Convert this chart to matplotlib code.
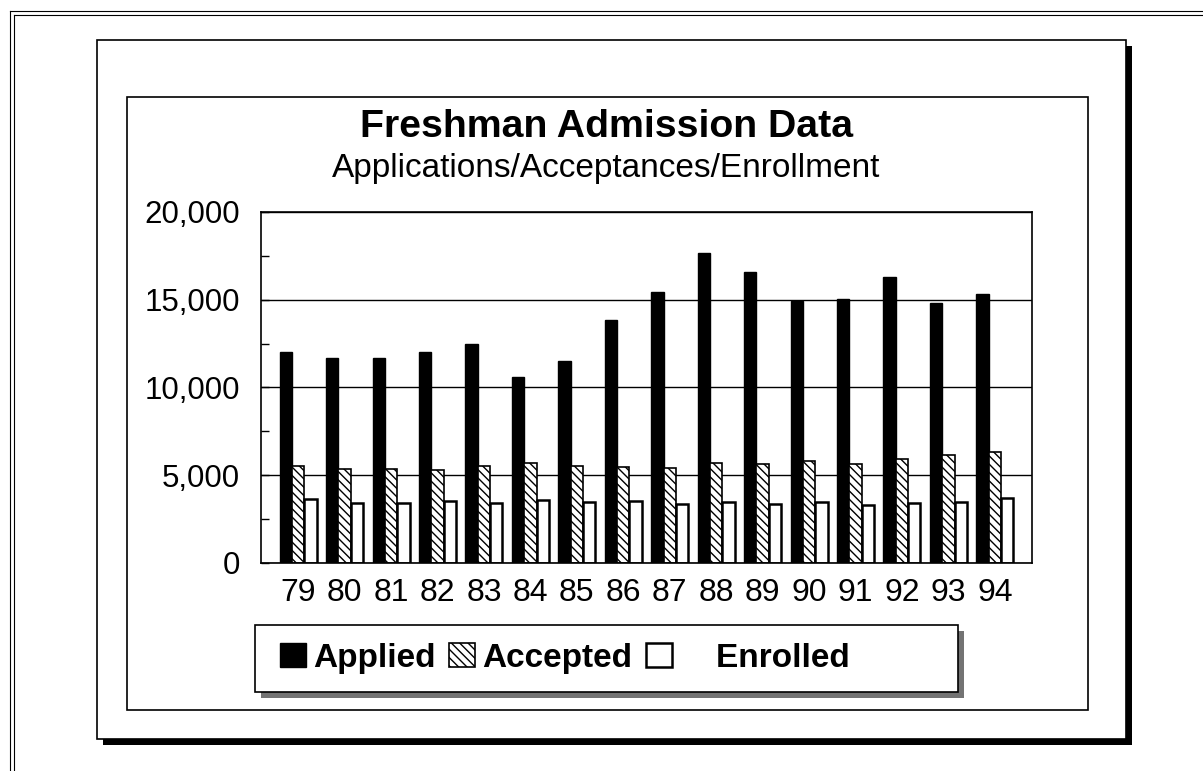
import matplotlib
matplotlib.use("Agg")
import matplotlib.pyplot as plt
from matplotlib.patches import Rectangle
from matplotlib.ticker import StrMethodFormatter, MultipleLocator
import numpy as np

plt.rcParams['font.family'] = ['Liberation Sans', 'DejaVu Sans']
plt.rcParams['hatch.linewidth'] = 1.0

# freshman admission counts by fall term
years = ['79', '80', '81', '82', '83', '84', '85', '86',
         '87', '88', '89', '90', '91', '92', '93', '94']
applied = [12000, 11700, 11700, 12000, 12500, 10600, 11500, 13850,
           15450, 17650, 16600, 14950, 15050, 16300, 14800, 15300]
accepted = [5550, 5350, 5350, 5300, 5550, 5700, 5550, 5450,
            5400, 5700, 5650, 5800, 5650, 5900, 6150, 6350]
enrolled = [3650, 3400, 3400, 3550, 3400, 3600, 3500, 3550,
            3350, 3450, 3350, 3450, 3300, 3400, 3500, 3700]

W, H = 1203, 771
fig = plt.figure(figsize=(W / 100, H / 100), dpi=100)
fig.patch.set_facecolor('white')

# background layer in pixel units for the frames
bg = fig.add_axes([0, 0, 1, 1], zorder=0)
bg.set_xlim(0, W)
bg.set_ylim(H, 0)
bg.axis('off')

# page border (double line, top and left)
for off in (0, 4):
    bg.plot([10 + off, 10 + off], [11 + off, H], color='black', lw=0.8)
    bg.plot([10 + off, W], [11 + off, 11 + off], color='black', lw=0.8)

# outer frame with drop shadow
bg.add_patch(Rectangle((103, 46), 1029, 699, facecolor='black', edgecolor='none', zorder=1))
bg.add_patch(Rectangle((97, 40), 1029, 699, facecolor='white', edgecolor='black', lw=1.2, zorder=2))
# inner frame
bg.add_patch(Rectangle((127, 97), 961, 613, facecolor='none', edgecolor='black', lw=1.2, zorder=3))
# legend box with stippled shadow
bg.add_patch(Rectangle((261, 631), 703, 67, facecolor='0.45', edgecolor='none', zorder=3))
bg.add_patch(Rectangle((255, 625), 703, 67, facecolor='white', edgecolor='black', lw=1.2, zorder=4))

# titles
fig.text(607 / W, 1 - 137 / H, 'Freshman Admission Data', ha='center', va='baseline',
         fontsize=28.3, fontweight='bold')
fig.text(606 / W, 1 - 177 / H, 'Applications/Acceptances/Enrollment', ha='center',
         va='baseline', fontsize=24)

# main chart
ax = fig.add_axes([261 / W, 1 - 563 / H, 771 / W, 351 / H], zorder=3)
x = np.arange(len(years))
bw = 0.265
b1 = ax.bar(x - bw, applied, bw, color='black', edgecolor='black', lw=1.0, label='Applied')
b2 = ax.bar(x, accepted, bw, color='white', edgecolor='black', lw=1.2, hatch=r'\\\\',
            label='Accepted')
b3 = ax.bar(x + bw, enrolled, bw, color='white', edgecolor='black', lw=1.8,
            label='    Enrolled')

ax.set_xlim(-0.8, 15.8)
ax.set_ylim(0, 20000)
ax.set_xticks(x)
ax.set_xticklabels(years)
ax.yaxis.set_major_locator(MultipleLocator(5000))
ax.yaxis.set_minor_locator(MultipleLocator(2500))
ax.yaxis.set_major_formatter(StrMethodFormatter('{x:,.0f}'))
ax.tick_params(axis='y', which='both', direction='in', length=6, width=1,
               labelsize=22.5, pad=15)
ax.tick_params(axis='x', length=0, labelsize=23, pad=11)
ax.grid(axis='y', which='major', color='black', lw=1.0)
ax.set_axisbelow(True)
for s in ax.spines.values():
    s.set_linewidth(1.2)

fig.legend(handles=[b1, b2, b3], loc='center left',
           bbox_to_anchor=(280 / W, 1 - 658.5 / H), ncol=3, frameon=False,
           prop={'size': 24, 'weight': 'bold'}, handlelength=0.78, handleheight=0.72,
           handletextpad=0.22, columnspacing=0.4, borderpad=0, borderaxespad=0)

fig.savefig('out.png', dpi=100)
